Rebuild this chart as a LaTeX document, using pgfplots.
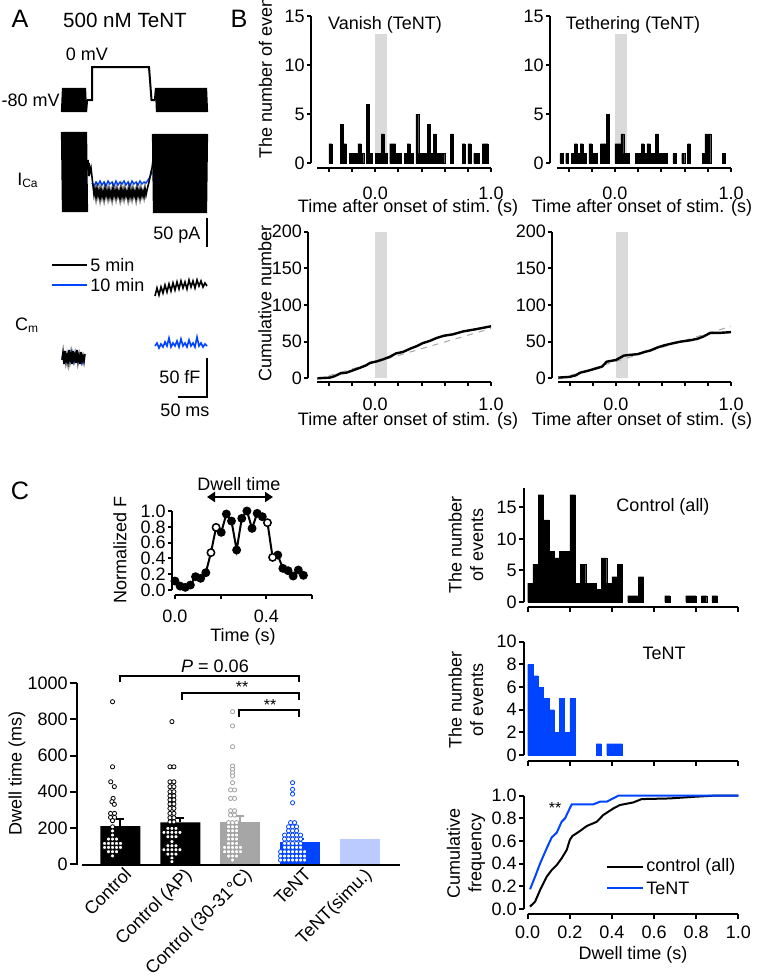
\documentclass[border=0pt]{standalone}
\usepackage{fontspec}
\setmainfont{Liberation Sans}
\usepackage{pgfplots}
\pgfplotsset{compat=1.18}
\usepackage{pgfplotstable}
\usetikzlibrary{arrows.meta}

\definecolor{tblue}{RGB}{0,68,255}
\definecolor{lblue}{RGB}{188,203,255}
\definecolor{cgray}{RGB}{166,166,166}
\definecolor{dgray}{RGB}{160,160,160}
\definecolor{band}{RGB}{218,218,218}
\newcommand{\nf}{\fontsize{9}{10.8}\selectfont}

\pgfplotsset{
  fig/.style={
    scale only axis, clip=false, anchor=south west,
    axis x line*=bottom, axis y line*=left,
    axis line style={line width=1pt},
    tick style={black, line width=1pt},
    tick align=outside, major tick length=2pt,
    tick label style={font=\nf},
    yticklabel style={inner xsep=1pt},
    /pgf/number format/assume math mode=true,
    /pgf/number format/set thousands separator={},
    scaled ticks=false,
  },
  hbar/.style={ybar, bar width=0.025, bar shift=0pt, draw=#1, fill=#1, line width=0.1pt},
}

% histogram bins: left edge of a 25 ms bin, count
\pgfplotstableread{
t n
-0.400 2
-0.300 4
-0.275 2
-0.225 1
-0.200 1
-0.175 1
-0.150 2
-0.125 1
-0.075 6
-0.050 1
0.000 1
0.025 1
0.050 3
0.075 1
0.125 2
0.150 2
0.175 1
0.200 1
0.250 1
0.275 2
0.300 1
0.350 5
0.375 1
0.400 1
0.425 1
0.450 4
0.475 1
0.500 3
0.525 1
0.550 1
0.575 1
0.650 3
0.750 2
0.800 2
0.850 1
0.875 1
0.925 2
0.950 2
}\vanish

\pgfplotstableread{
t n
-0.475 1
-0.425 1
-0.375 1
-0.350 2
-0.325 1
-0.300 2
-0.275 1
-0.225 2
-0.200 1
-0.175 1
-0.125 2
-0.100 2
-0.075 5
0.000 2
0.025 2
0.050 3
0.075 1
0.100 1
0.175 1
0.200 1
0.225 2
0.250 1
0.275 2
0.300 1
0.325 1
0.350 3
0.375 1
0.400 1
0.425 1
0.500 1
0.575 1
0.625 2
0.750 1
0.775 3
0.800 3
0.925 1
}\tether

\pgfplotstableread{
t n
0.000 3
0.025 6
0.050 17
0.075 13
0.100 8
0.125 7
0.150 8
0.175 8
0.200 17
0.225 3
0.250 6
0.275 3
0.300 3
0.325 2
0.350 7
0.375 3
0.400 4
0.425 6
0.475 1
0.500 1
0.525 4
0.650 1
0.750 1
0.775 1
0.825 1
0.875 1
}\ctlhist

\pgfplotstableread{
t n
0.000 8
0.025 7
0.050 6
0.075 5
0.100 4
0.125 2
0.150 5
0.175 2
0.200 5
0.325 1
0.375 1
0.400 1
0.425 1
}\tenthist

\begin{document}
\begin{tikzpicture}[font=\nf]
\useasboundingbox (0pt,0pt) rectangle (381pt,-489pt);

%%%%%%%%%%%%%%%% panel A (traces, in picture pixels)
\begin{axis}[at={(25pt,-20pt)}, anchor=north west, scale only axis, width=82.5pt, height=190pt,
  xmin=50, xmax=215, ymin=40, ymax=420, y dir=reverse, hide axis, clip=false]
% voltage command
\addplot[black, line width=1.1pt] coordinates {(62,112)(63,88)(64,112)(65,88)(66,112)(67,88)(68,112)(69,88)(70,112)(71,88)(72,112)(73,88)(74,112)(75,88)(76,112)(77,88)(78,112)(79,88)(80,112)(81,88)(82,112)(83,88)(84,112)(85,88)(86,112)(87,100)};
\addplot[black, line width=1pt] coordinates {(87,100)(92,100)(92,67)(149,67)(151.5,100)(155,100)};
\addplot[black, line width=1.1pt] coordinates {(155,100)(156,88)(157,112)(158,88)(159,112)(160,88)(161,112)(162,88)(163,112)(164,88)(165,112)(166,88)(167,112)(168,88)(169,112)(170,88)(171,112)(172,88)(173,112)(174,88)(175,112)(176,88)(177,112)(178,88)(179,112)(180,88)(181,112)(182,88)(183,112)(184,88)(185,112)(186,88)(187,112)(188,88)(189,112)(190,88)(191,112)(192,88)(193,112)(194,88)(195,112)(196,88)(197,112)(198,88)(199,112)(200,88)(201,112)(202,88)(203,112)(204,88)(205,112)(206,88)(207,112)};
% ICa
\addplot[black, line width=1.1pt] coordinates {(62,132)(63,212)(64,132)(65,212)(66,132)(67,212)(68,132)(69,212)(70,132)(71,212)(72,132)(73,212)(74,132)(75,212)(76,132)(77,212)(78,132)(79,212)(80,132)(81,212)(82,132)(83,212)(84,132)(85,212)(86,132)(87,212)};
\addplot[tblue, line width=0.7pt] coordinates {(92,183)(94,186)(96,182)(98,185)(100,181)(102,185)(104,182)(106,186)(108,181)(110,184)(112,182)(114,186)(116,181)(118,185)(120,182)(122,184)(124,181)(126,185)(128,182)(130,186)(132,181)(134,184)(136,182)(138,185)(140,181)(142,184)(144,182)(146,183)(148,180)(150,177)(152,172)};
\addplot[black, line width=0.8pt] coordinates {(87,170)(88,160)(88.5,176)(89,163)(90,172)(91,168)(93,186)(94,195)(95,189)(96,198)(97,188)(98,196)(99,190)(100,199)(101,189)(102,197)(103,191)(104,199)(105,188)(106,196)(107,190)(108,198)(109,189)(110,197)(111,191)(112,199)(113,188)(114,196)(115,190)(116,198)(117,189)(118,196)(119,191)(120,199)(121,188)(122,197)(123,190)(124,198)(125,189)(126,196)(127,191)(128,199)(129,188)(130,197)(131,190)(132,198)(133,189)(134,196)(135,191)(136,199)(137,188)(138,196)(139,190)(140,198)(141,189)(142,196)(143,191)(144,197)(145,188)(146,195)(147,190)(149,182)(151,172)(152,168)(153,160)};
\addplot[black, line width=1.1pt] coordinates {(153,134)(154,213)(155,134)(156,213)(157,134)(158,213)(159,134)(160,213)(161,134)(162,213)(163,134)(164,213)(165,134)(166,213)(167,134)(168,213)(169,134)(170,213)(171,134)(172,213)(173,134)(174,213)(175,134)(176,213)(177,134)(178,213)(179,134)(180,213)(181,134)(182,213)(183,134)(184,213)(185,134)(186,213)(187,134)(188,213)(189,134)(190,213)(191,134)(192,213)(193,134)(194,213)(195,134)(196,213)(197,134)(198,213)(199,134)(200,213)(201,134)(202,213)(203,134)(204,213)(205,134)(206,213)(207,134)};
% Cm
\addplot[black, line width=0.8pt] coordinates {(155,296)(157,288)(159,295)(161,287)(163,293)(165,285)(167,292)(169,284)(171,291)(173,283)(175,290)(177,282)(179,289)(181,281)(183,288)(185,282)(187,289)(189,280)(191,287)(193,281)(195,288)(197,280)(199,286)(201,281)(203,287)(205,283)(207,286)};
\addplot[tblue, line width=0.8pt] coordinates {(155,346)(157,343)(159,348)(161,344)(163,347)(165,342)(167,346)(169,338)(171,347)(173,343)(175,346)(177,341)(179,347)(181,339)(183,346)(185,343)(187,347)(189,340)(191,346)(193,343)(195,347)(197,337)(199,346)(201,343)(203,347)(205,344)(207,346)};
\addplot[tblue, line width=0.8pt] coordinates {(62,358)(64,353)(66,361)(68,355)(70,360)(72,352)(74,362)(76,354)(78,360)(80,356)(82,363)(84,355)};
\addplot[black, line width=0.8pt] coordinates {(62,360)(63,352)(64,364)(65,351)(66,362)(67,355)(68,363)(69,350)(70,361)(71,353)(72,364)(73,351)(74,360)(75,354)(76,363)(77,350)(78,362)(79,355)(80,364)(81,352)(82,361)(83,356)(84,362)(85,354)};
\end{axis}

%%%%%%%%%%%%%%%% panel B
\begin{axis}[fig, at={(155.5pt,-84pt)}, width=90pt, height=76pt,
  xmin=-0.555, xmax=1.0, ymin=-0.48, ymax=15,
  x axis line style={shorten <=3.2pt}, y axis line style={shorten <=2.35pt},
  xtick={-0.4,-0.2,0,0.2,0.4,0.6,0.8,1}, xticklabels={,,0.0,,,,,1.0},
  xticklabel style={yshift=-4pt},
  ytick={0,5,10,15}]
\fill[band] (0,0) rectangle (0.103,13.2);
\addplot[hbar=black] table[x expr=\thisrow{t}+0.0125, y=n] {\vanish};
\end{axis}
\begin{axis}[fig, at={(275pt,-84pt)}, width=90.5pt, height=76pt,
  xmin=-0.56, xmax=1.0, ymin=-0.48, ymax=15,
  x axis line style={shorten <=3.5pt}, y axis line style={shorten <=2.35pt},
  xtick={-0.4,-0.2,0,0.2,0.4,0.6,0.8,1}, xticklabels={,,0.0,,,,,1.0},
  xticklabel style={yshift=-4pt},
  ytick={0,5,10,15}, yticklabel={}]
\fill[band] (0,0) rectangle (0.103,13.2);
\addplot[hbar=black] table[x expr=\thisrow{t}+0.0125, y=n] {\tether};
\end{axis}
\begin{axis}[fig, at={(154.15pt,-191pt)}, width=91.35pt, height=75.15pt,
  xmin=-0.578, xmax=1.0, ymin=-5, ymax=200,
  x axis line style={shorten <=4.5pt}, y axis line style={shorten <=1.85pt},
  xtick={-0.4,-0.2,0,0.2,0.4,0.6,0.8,1}, xticklabels={,,0.0,,,,,1.0},
  xticklabel style={yshift=-2.5pt},
  ytick={0,50,100,150,200}]
\fill[band] (0,0) rectangle (0.103,200);
\addplot[gray!70, dashed, line width=0.5pt] coordinates {(-0.5,-1)(1.0,68)};
\addplot[black, line width=1.2pt] coordinates {(-0.5,0)(-0.45,0.5)(-0.39,1)(-0.35,3)(-0.30,6.8)(-0.25,7.7)(-0.19,11)(-0.13,14.5)(-0.075,18)(-0.046,21)(0.01,23)(0.07,26)(0.127,29.5)(0.18,34)(0.24,36)(0.31,41)(0.36,44)(0.41,48)(0.47,51)(0.53,55)(0.59,58)(0.67,60)(0.76,64)(0.87,67)(1.0,71)};
\end{axis}
\begin{axis}[fig, at={(276.15pt,-191pt)}, width=89.35pt, height=75.15pt,
  xmin=-0.552, xmax=1.0, ymin=-5, ymax=200,
  x axis line style={shorten <=3pt}, y axis line style={shorten <=1.85pt},
  xtick={-0.4,-0.2,0,0.2,0.4,0.6,0.8,1}, xticklabels={,,0.0,,,,,1.0},
  xticklabel style={yshift=-2.5pt},
  ytick={0,50,100,150,200}, yticklabel={}]
\fill[band] (0,0) rectangle (0.103,200);
\addplot[gray!70, dashed, line width=0.5pt] coordinates {(-0.5,-1)(1.0,71)};
\addplot[black, line width=1.2pt] coordinates {(-0.5,1)(-0.4,2)(-0.35,4)(-0.31,7.7)(-0.25,10)(-0.17,13.6)(-0.12,16)(-0.08,22.7)(0,25)(0.07,31)(0.12,32)(0.19,33)(0.25,36)(0.3,38)(0.36,42)(0.42,45)(0.5,48)(0.56,50)(0.65,52)(0.71,54)(0.76,57)(0.82,62)(0.9,62)(1.0,63)};
\end{axis}

%%%%%%%%%%%%%%%% panel C
\begin{axis}[fig, at={(86pt,-297.5pt)}, width=70pt, height=42pt,
  xmin=-0.013, xmax=0.6, ymin=-0.063, ymax=1.0,
  x axis line style={shorten <=1.5pt}, y axis line style={shorten <=2.5pt},
  xtick={0,0.2,0.4,0.6}, xticklabels={0.0,,0.4,},
  xticklabel style={yshift=-2pt},
  ytick={0,0.2,0.4,0.6,0.8,1.0},
  yticklabel style={/pgf/number format/.cd, fixed, fixed zerofill, precision=1}]
\addplot[black, line width=1pt, mark=*, mark size=1.7pt] coordinates {(0,0.114)(0.0225,0.05)(0.045,0.034)(0.0675,0.063)(0.09,0.169)(0.1125,0.148)(0.135,0.219)(0.1575,0.473)(0.18,0.793)(0.2025,0.73)(0.225,0.962)(0.2475,0.873)(0.27,0.506)(0.2925,0.907)(0.315,1.0)(0.3375,0.78)(0.36,0.97)(0.3825,0.928)(0.405,0.852)(0.4275,0.413)(0.45,0.443)(0.4725,0.274)(0.495,0.245)(0.5175,0.177)(0.54,0.253)(0.5625,0.186)};
\addplot[only marks, mark=*, mark size=1.7pt, mark options={draw=black, fill=white, line width=0.5pt}] coordinates {(0.1575,0.473)(0.18,0.793)(0.405,0.852)(0.4275,0.413)};
\end{axis}

% dwell time bars
\begin{axis}[fig, at={(38.5pt,-432.5pt)}, width=161.5pt, height=90.85pt,
  xmin=-0.722, xmax=4.66, ymin=-5.5, ymax=1000, major tick length=3.5pt,
  x axis line style={shorten <=2.5pt},
  ytick={0,200,400,600,800,1000},
  xtick={0,1,2,3,4}, xtick style={draw=none},
  xticklabels={Control, Control (AP), Control (30-31°C), TeNT, TeNT(simu.)},
  xticklabel style={xshift=1.5pt, yshift=3pt, rotate=45, anchor=north east, inner sep=0pt}]
\addplot[ybar, bar width=0.667, bar shift=0pt, fill=black, draw=none,
  error bars/.cd, y dir=plus, y explicit, error bar style={line width=1pt, black},
  error mark options={rotate=90, mark size=2pt, line width=1pt, black}]
  coordinates {(0,210) +- (0,39) (1,231) +- (0,25)};
\addplot[ybar, bar width=0.667, bar shift=0pt, fill=cgray, draw=none,
  error bars/.cd, y dir=plus, y explicit, error bar style={line width=1pt, cgray},
  error mark options={rotate=90, mark size=2pt, line width=1pt, cgray}]
  coordinates {(2,234) +- (0,30)};
\addplot[ybar, bar width=0.667, bar shift=0pt, fill=tblue, draw=none,
  error bars/.cd, y dir=plus, y explicit, error bar style={line width=1pt, tblue},
  error mark options={rotate=90, mark size=2pt, line width=1pt, tblue}]
  coordinates {(3,122) +- (0,18)};
\addplot[ybar, bar width=0.667, bar shift=0pt, fill=lblue, draw=none] coordinates {(4,138)};
\addplot[only marks, mark=*, mark size=1.05pt, mark options={draw=black, fill=white, line width=0.4pt}] coordinates {
(-0.13,898)(-0.13,538)(-0.16,455)(-0.10,428)(-0.12,363)(-0.14,345)(-0.10,330)
(-0.163,280)(-0.097,280)(-0.163,258)(-0.097,258)(-0.13,240)(-0.13,206)(-0.13,183)(-0.13,160)
(-0.197,138)(-0.13,138)(-0.063,138)
(-0.263,114)(-0.197,114)(-0.13,114)(-0.063,114)(0.003,114)
(-0.263,92)(-0.197,92)(-0.13,92)(-0.063,92)(0.003,92)
(-0.197,68)(-0.13,68)(-0.063,68)(-0.13,45)
(0.86,788)(0.827,538)(0.893,538)
(0.827,455)(0.893,455)(0.827,428)(0.893,428)(0.827,400)(0.893,400)(0.827,377)(0.893,377)
(0.827,355)(0.893,355)(0.827,332)(0.893,332)(0.827,308)(0.893,308)(0.827,280)(0.893,280)
(0.827,256)(0.893,256)(0.827,233)(0.893,233)
(0.793,197)(0.86,197)(0.927,197)
(0.727,175)(0.793,175)(0.86,175)(0.927,175)(0.993,175)
(0.793,151)(0.86,151)(0.927,151)(0.86,124)
(0.793,101)(0.86,101)(0.927,101)
(0.727,79)(0.793,79)(0.86,79)(0.927,79)(0.993,79)
(0.793,55)(0.86,55)(0.927,55)(0.86,33)(0.86,13)};
\addplot[only marks, mark=*, mark size=1.05pt, mark options={draw=dgray, fill=white, line width=0.4pt}] coordinates {
(1.87,843)(1.87,764)(1.87,649)(1.87,542)(1.87,524)(1.87,505)(1.87,487)(1.87,450)
(1.837,410)(1.903,410)(1.837,363)(1.903,363)(1.837,295)(1.903,295)(1.837,271)(1.903,271)
(1.803,229)(1.87,229)(1.937,229)(1.803,206)(1.87,206)(1.937,206)
(1.803,184)(1.87,184)(1.937,184)(1.803,160)(1.87,160)(1.937,160)
(1.803,138)(1.87,138)(1.937,138)(1.803,114)(1.87,114)(1.937,114)
(1.737,92)(1.803,92)(1.87,92)(1.937,92)(2.003,92)
(1.737,68)(1.803,68)(1.87,68)(1.937,68)(2.003,68)
(1.803,44)(1.87,44)(1.937,44)(1.87,22)};
\addplot[only marks, mark=*, mark size=1.05pt, mark options={draw=tblue, fill=white, line width=0.4pt}] coordinates {
(2.87,450)(2.87,413)(2.87,387)(2.87,339)
(2.837,229)(2.903,229)(2.803,206)(2.87,206)(2.937,206)(2.803,184)(2.87,184)(2.937,184)
(2.737,160)(2.803,160)(2.87,160)(2.937,160)(3.003,160)
(2.737,138)(2.803,138)(2.87,138)(2.937,138)(3.003,138)
(2.737,114)(2.803,114)(2.87,114)(2.937,114)(3.003,114)
(2.737,92)(2.803,92)(2.87,92)(2.937,92)(3.003,92)
(2.67,68)(2.737,68)(2.803,68)(2.87,68)(2.937,68)(3.003,68)(3.07,68)
(2.67,44)(2.737,44)(2.803,44)(2.87,44)(2.937,44)(3.003,44)(3.07,44)
(2.67,22)(2.737,22)(2.803,22)(2.87,22)(2.937,22)(3.003,22)(3.07,22)};
\end{axis}

% dwell time histograms
\begin{axis}[fig, at={(262pt,-303.65pt)}, width=107.15pt, height=59.5pt,
  xmin=-0.0176, xmax=1.0, ymin=-0.84, ymax=18, major tick length=2.5pt,
  x axis line style={shorten <=1.85pt}, y axis line style={shorten <=2.65pt},
  xtick={0,0.2,0.4,0.6,0.8,1}, xticklabels={},
  ytick={0,5,10,15}]
\addplot[hbar=black] table[x expr=\thisrow{t}+0.0125, y=n] {\ctlhist};
\end{axis}
\begin{axis}[fig, at={(262pt,-380.35pt)}, width=107.15pt, height=59.5pt,
  xmin=-0.0176, xmax=1.0, ymin=-0.5, ymax=10, major tick length=2.5pt,
  x axis line style={shorten <=1.85pt}, y axis line style={shorten <=2.85pt},
  xtick={0,0.2,0.4,0.6,0.8,1}, xticklabels={},
  ytick={0,2,4,6,8,10}]
\addplot[hbar=tblue] table[x expr=\thisrow{t}+0.0125, y=n] {\tenthist};
\end{axis}
\begin{axis}[fig, at={(262pt,-457.15pt)}, width=107.15pt, height=59.3pt,
  xmin=-0.0176, xmax=1.0, ymin=-0.047, ymax=1.0, major tick length=2.5pt,
  x axis line style={shorten <=1.85pt}, y axis line style={shorten <=2.65pt},
  xtick={0,0.2,0.4,0.6,0.8,1}, xticklabels={0.0,0.2,0.4,0.6,0.8,1.0},
  ytick={0,0.2,0.4,0.6,0.8,1.0},
  yticklabel style={/pgf/number format/.cd, fixed, fixed zerofill, precision=1}]
\addplot[black, line width=1pt] coordinates {(0.011,0.021)(0.035,0.065)(0.059,0.168)(0.09,0.285)(0.114,0.344)(0.138,0.388)(0.161,0.447)(0.185,0.52)(0.2,0.61)(0.212,0.644)(0.248,0.688)(0.28,0.732)(0.328,0.77)(0.359,0.83)(0.407,0.888)(0.438,0.918)(0.5,0.94)(0.541,0.97)(0.675,0.976)(0.786,0.99)(0.88,1.0)(1.0,1.0)};
\addplot[tblue, line width=1pt] coordinates {(0.011,0.174)(0.035,0.285)(0.059,0.403)(0.09,0.535)(0.114,0.632)(0.138,0.674)(0.161,0.77)(0.177,0.8)(0.209,0.924)(0.312,0.924)(0.343,0.947)(0.375,0.947)(0.43,1.0)(1.0,1.0)};
\end{axis}

%%%%%%%%%%%%%%%% texts and annotations, in picture pixels
\begin{scope}[x=0.5pt,y=0.5pt]
\draw[line width=1pt] (207,-218) -- (207,-247);
\draw[line width=1pt] (207,-358) -- (207,-397) -- (178,-397);
\draw[line width=1pt] (52,-265) -- (87,-265);
\draw[line width=1pt, tblue] (52,-285) -- (87,-285);
\node at (20,-19) {\fontsize{12.6}{14}\selectfont A};
\node at (125,-20) {\fontsize{10.3}{12}\selectfont 500 nM TeNT};
\node at (87,-54) {0 mV};
\node[anchor=east, inner sep=0pt] at (60,-100) {-80 mV};
\node at (28,-180) {I\textsubscript{Ca}};
\node at (177,-235) {50 pA};
\node[anchor=west, inner sep=1pt] at (88,-265) {5 min};
\node[anchor=west, inner sep=1pt] at (88,-285) {10 min};
\node at (27,-325) {C\textsubscript{m}};
\node at (180,-377) {50 fF};
\node at (185,-410) {50 ms};

\node at (239,-19) {\fontsize{12.6}{14}\selectfont B};
\node at (385,-25) {Vanish (TeNT)};
\node at (633,-25) {Tethering (TeNT)};
\node[rotate=90] at (265.5,-71) {The number of events};
\node[rotate=90] at (265,-303) {Cumulative number};
\node at (408,-208) {Time after onset of stim. (s)};
\node at (642,-208) {Time after onset of stim. (s)};
\node at (408,-421) {Time after onset of stim. (s)};
\node at (642,-421) {Time after onset of stim. (s)};

\node at (20,-491) {\fontsize{12.6}{14}\selectfont C};
\draw[line width=1pt, {Triangle[length=4pt,width=5pt]}-{Triangle[length=4pt,width=5pt]}] (207,-497) -- (273,-497);
\node at (239,-484) {Dwell time};
\node[rotate=90] at (120,-550) {Normalized F};
\node at (243,-637) {Time (s)};

\draw[line width=1pt] (120,-682.3) -- (120,-675.7) -- (299.3,-675.7) -- (299.3,-682.3);
\draw[line width=1pt] (181.7,-700) -- (181.7,-693.3) -- (299.3,-693.3) -- (299.3,-700);
\draw[line width=1pt] (239.3,-716.7) -- (239.3,-710) -- (299.3,-710) -- (299.3,-716.7);
\node at (215,-666) {\textit{P} = 0.06};
\node at (242,-687) {\fontsize{8}{9}\selectfont **};
\node at (270,-705) {\fontsize{8}{9}\selectfont **};
\node[rotate=90] at (17,-773) {Dwell time (ms)};

\node[rotate=90, align=center] at (466,-545) {The number\\of events};
\node[rotate=90, align=center] at (466,-700) {The number\\of events};
\node[rotate=90, align=center] at (466,-853) {Cumulative\\frequency};
\node at (663,-507) {Control (all)};
\node at (664,-653) {TeNT};
\node at (555,-808) {\fontsize{8}{9}\selectfont **};
\draw[line width=1pt] (607,-866.7) -- (643,-866.7);
\draw[line width=1pt, tblue] (607,-888) -- (643,-888);
\node[anchor=west, inner sep=1pt] at (644,-867) {control (all)};
\node[anchor=west, inner sep=1pt] at (644,-888) {TeNT};
\node at (633,-955) {Dwell time (s)};
\end{scope}
\end{tikzpicture}
\end{document}
